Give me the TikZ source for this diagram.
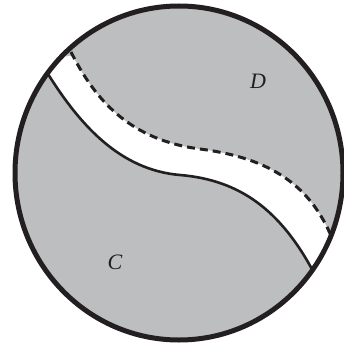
\documentclass[tikz,border=0pt]{standalone}
\usepackage{fontspec}
\setmainfont{Liberation Serif}
\begin{document}
\begin{tikzpicture}[x=1pt,y=-1pt,
  region/.style={fill={rgb,255:red,188;green,190;blue,192}},
  rim/.style={line width=5pt,draw={rgb,255:red,35;green,31;blue,32}},
  solidedge/.style={line width=2.6pt,draw={rgb,255:red,35;green,31;blue,32}},
  dashedge/.style={line width=3pt,draw={rgb,255:red,35;green,31;blue,32},dash pattern=on 8pt off 5pt},
  lab/.style={font=\fontsize{22}{26}\selectfont\itshape,text={rgb,255:red,35;green,31;blue,32}}]
\useasboundingbox (0,0) rectangle (344,345);
\def\rimpath{(179,173) ellipse [x radius=164, y radius=167]}
\def\solidcurve{(48,74) .. controls (80,125) and (120,170) .. (180,175) .. controls (240,180) and (280,210) .. (313,271)}
\def\dashcurve{(71,52) .. controls (95,100) and (130,140) .. (200,149) .. controls (270,158) and (310,185) .. (332,238)}
\fill[region] \rimpath;
\begin{scope}
  \clip \rimpath;
  \fill[white] (38,58) -- \solidcurve -- (320,284) -- (345,290) -- (345,40) -- cycle;
  \fill[region] (66,42) -- \dashcurve -- (337,250) -- (345,260) -- (345,0) -- (60,0) -- cycle;
  \draw[solidedge] (38,58) -- \solidcurve -- (320,284);
  \draw[dashedge] \dashcurve;
\end{scope}
\draw[rim] \rimpath;
\node[lab] (D) at (258,81) {D};
\node[lab] (C) at (115,262) {C};
\end{tikzpicture}
\end{document}
